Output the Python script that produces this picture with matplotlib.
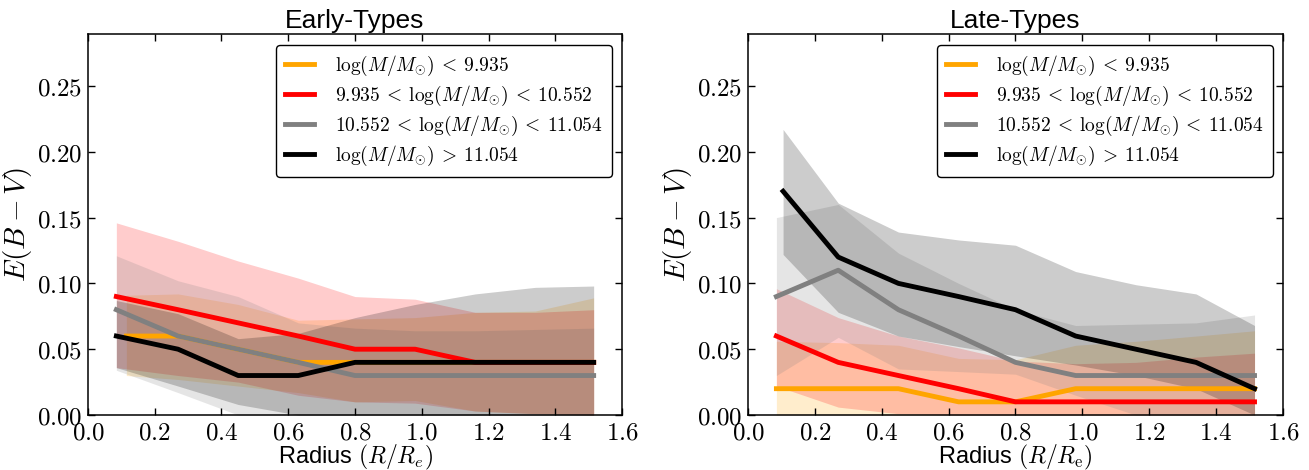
import numpy as np
import matplotlib
matplotlib.use("Agg")
import matplotlib.pyplot as plt
from matplotlib.ticker import FuncFormatter, MultipleLocator

plt.rcParams['mathtext.fontset'] = 'cm'
plt.rcParams['font.family'] = ['Liberation Sans', 'DejaVu Sans']

labels = [r'$\log(M/M_{\odot})\:<\:9.935$',
          r'$9.935\:<\:\log(M/M_{\odot})\:<\:10.552$',
          r'$10.552\:<\:\log(M/M_{\odot})\:<\:11.054$',
          r'$\log(M/M_{\odot})\:>\:11.054$']
colors = ['orange', 'red', 'gray', 'black']

# ---- Early-Types ----
early_x_orange = [0.115, 0.27, 0.45, 0.63, 0.80, 0.98, 1.16, 1.34, 1.515]
early_x_other = [0.085, 0.27, 0.45, 0.63, 0.80, 0.98, 1.16, 1.34, 1.515]

early_orange = [0.06, 0.06, 0.05, 0.04, 0.04, 0.04, 0.04, 0.04, 0.04]
early_orange_hi = [0.091, 0.092, 0.084, 0.072, 0.073, 0.074, 0.078, 0.079, 0.089]
early_orange_lo = [0.030, 0.027, 0.022, 0.017, 0.010, 0.011, 0.003, 0.001, 0.0]

early_red = [0.09, 0.08, 0.07, 0.06, 0.05, 0.05, 0.04, 0.04, 0.04]
early_red_hi = [0.146, 0.132, 0.117, 0.104, 0.090, 0.088, 0.078, 0.078, 0.080]
early_red_lo = [0.036, 0.030, 0.025, 0.015, 0.010, 0.009, 0.003, 0.001, 0.0]

early_gray = [0.08, 0.06, 0.05, 0.04, 0.03, 0.03, 0.03, 0.03, 0.03]
early_gray_hi = [0.121, 0.102, 0.090, 0.070, 0.066, 0.064, 0.064, 0.065, 0.066]
early_gray_lo = [0.034, 0.017, 0.0, 0.0, 0.0, 0.0, 0.0, 0.0, 0.0]

early_black = [0.06, 0.05, 0.03, 0.03, 0.04, 0.04, 0.04, 0.04, 0.04]
early_black_hi = [0.087, 0.077, 0.058, 0.062, 0.074, 0.084, 0.092, 0.097, 0.098]
early_black_lo = [0.036, 0.022, 0.008, 0.0, 0.0, 0.0, 0.0, 0.0, 0.0]

# ---- Late-Types ----
late_x_other = [0.085, 0.27, 0.45, 0.63, 0.80, 0.98, 1.16, 1.34, 1.515]
late_x_black = [0.105, 0.27, 0.45, 0.63, 0.80, 0.98, 1.16, 1.34, 1.515]

late_orange = [0.02, 0.02, 0.02, 0.01, 0.01, 0.02, 0.02, 0.02, 0.02]
late_orange_hi = [0.056, 0.055, 0.053, 0.043, 0.042, 0.053, 0.056, 0.060, 0.064]
late_orange_lo = [0.0, 0.0, 0.0, 0.0, 0.0, 0.0, 0.0, 0.0, 0.0]

late_red = [0.06, 0.04, 0.03, 0.02, 0.01, 0.01, 0.01, 0.01, 0.01]
late_red_hi = [0.096, 0.074, 0.060, 0.051, 0.041, 0.039, 0.040, 0.044, 0.047]
late_red_lo = [0.022, 0.006, 0.001, 0.0, 0.0, 0.0, 0.0, 0.0, 0.0]

late_gray = [0.09, 0.11, 0.08, 0.06, 0.04, 0.03, 0.03, 0.03, 0.03]
late_gray_hi = [0.150, 0.160, 0.123, 0.100, 0.080, 0.068, 0.069, 0.070, 0.076]
late_gray_lo = [0.030, 0.059, 0.035, 0.033, 0.031, 0.015, 0.0, 0.0, 0.0]

late_black = [0.17, 0.12, 0.10, 0.09, 0.08, 0.06, 0.05, 0.04, 0.02]
late_black_hi = [0.217, 0.161, 0.139, 0.133, 0.129, 0.109, 0.099, 0.092, 0.068]
late_black_lo = [0.122, 0.078, 0.060, 0.052, 0.045, 0.038, 0.030, 0.020, 0.0]

early = [(early_x_orange, early_orange, early_orange_lo, early_orange_hi),
         (early_x_other, early_red, early_red_lo, early_red_hi),
         (early_x_other, early_gray, early_gray_lo, early_gray_hi),
         (early_x_other, early_black, early_black_lo, early_black_hi)]
late = [(late_x_other, late_orange, late_orange_lo, late_orange_hi),
        (late_x_other, late_red, late_red_lo, late_red_hi),
        (late_x_other, late_gray, late_gray_lo, late_gray_hi),
        (late_x_black, late_black, late_black_lo, late_black_hi)]

fig = plt.figure(figsize=(13.09, 4.70), dpi=100)
ax1 = fig.add_axes([0.0672, 0.117, 0.4080, 0.8107])
ax2 = fig.add_axes([0.5714, 0.117, 0.4087, 0.8107])

def draw(ax, series, title, xlabel):
    for (x, y, lo, hi), c in zip(series, colors):
        ax.fill_between(x, lo, hi, color=c, alpha=0.2, linewidth=0, zorder=1)
    for (x, y, lo, hi), c, lab in zip(series, colors, labels):
        ax.plot(x, y, color=c, lw=3.5, label=lab, zorder=2)
    ax.set_xlim(0, 1.6)
    ax.set_ylim(0, 0.2895)
    ax.xaxis.set_major_locator(MultipleLocator(0.2))
    ax.yaxis.set_major_locator(MultipleLocator(0.05))
    ax.xaxis.set_major_formatter(FuncFormatter(lambda v, p: f'${v:.1f}$'))
    ax.yaxis.set_major_formatter(FuncFormatter(lambda v, p: f'${v:.2f}$'))
    ax.tick_params(direction='in', top=True, right=True, length=5, width=1,
                   labelsize=18, pad=4)
    for s in ax.spines.values():
        s.set_linewidth(1.1)
    ax.set_title(title, fontsize=19, pad=4)
    ax.set_xlabel(xlabel, fontsize=17, labelpad=-1)
    ax.set_ylabel(r'$E(B-V)$', fontsize=21, labelpad=2)
    leg = ax.legend(loc='upper right', fontsize=14, handlelength=1.5,
                    frameon=True, fancybox=True, edgecolor='black',
                    framealpha=1, borderpad=0.45, labelspacing=0.3,
                    handletextpad=1.1, borderaxespad=0,
                    bbox_to_anchor=(0.981, 0.971))
    leg.get_frame().set_linewidth(1.0)

draw(ax1, early, 'Early-Types', r'Radius $(R/R_e)$')
draw(ax2, late, 'Late-Types', r'Radius $(R/R_{\rm e})$')

fig.savefig('out.png', dpi=100)
